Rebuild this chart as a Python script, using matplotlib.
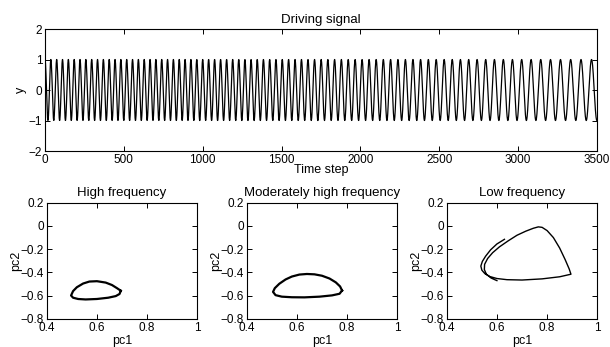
import matplotlib.pyplot as plt
import numpy as np

plt.rcParams['font.family'] = ['Liberation Sans', 'DejaVu Sans']
plt.rcParams['font.size'] = 8

# Driving signal: oscillation period (time steps) read at several time points
time_marks = [0, 285, 888, 1490, 2092, 2694, 3220, 3500]
period_marks = [37, 37, 37, 40, 45, 53, 63, 68]
n_steps = 3500

# Phase portraits (pc1, pc2)
high_pc1 = [0.695, 0.68, 0.66, 0.635, 0.60, 0.57, 0.545, 0.52, 0.505, 0.497,
            0.505, 0.525, 0.555, 0.60, 0.645, 0.675, 0.69, 0.695]
high_pc2 = [-0.557, -0.535, -0.508, -0.487, -0.475, -0.478, -0.495, -0.527,
            -0.56, -0.598, -0.617, -0.628, -0.632, -0.628, -0.617, -0.603,
            -0.585, -0.557]

mod_pc1 = [0.78, 0.772, 0.755, 0.73, 0.70, 0.67, 0.64, 0.61, 0.58, 0.555,
           0.53, 0.512, 0.505, 0.515, 0.54, 0.58, 0.63, 0.69, 0.74, 0.77, 0.78]
mod_pc2 = [-0.555, -0.52, -0.485, -0.452, -0.428, -0.416, -0.413, -0.418,
           -0.435, -0.46, -0.497, -0.535, -0.567, -0.595, -0.608, -0.613,
           -0.614, -0.608, -0.597, -0.583, -0.555]

low_pc1 = [0.63, 0.60, 0.575, 0.555, 0.542, 0.536, 0.54, 0.552, 0.572, 0.60,
           0.64, 0.70, 0.78, 0.85, 0.895, 0.888, 0.872, 0.85, 0.825, 0.80,
           0.78, 0.765, 0.745, 0.715, 0.68, 0.645, 0.61, 0.583, 0.563, 0.551,
           0.55, 0.558, 0.577, 0.60]
low_pc2 = [-0.115, -0.155, -0.205, -0.26, -0.305, -0.345, -0.38, -0.41,
           -0.435, -0.452, -0.462, -0.465, -0.455, -0.437, -0.415, -0.37,
           -0.29, -0.19, -0.10, -0.04, -0.012, -0.008, -0.02, -0.045, -0.08,
           -0.128, -0.18, -0.23, -0.28, -0.33, -0.375, -0.415, -0.448, -0.47]

t = np.arange(n_steps + 1)
period = np.interp(t, time_marks, period_marks)
y_sig = np.cos(2 * np.pi * np.concatenate([[0], np.cumsum(1.0 / period[:-1])]))

fig = plt.figure(figsize=(6.1, 3.47), dpi=100)


def style(ax):
    ax.tick_params(direction='in', top=True, right=True, length=3.5,
                   width=0.7, pad=2, labelsize=8.5)
    for s in ax.spines.values():
        s.set_linewidth(0.8)


ax = fig.add_axes([0.0738, 0.5648, 0.9049, 0.3516])
ax.plot(t, y_sig, color='black', lw=0.9)
ax.set_xlim(0, 3500)
ax.set_ylim(-2, 2)
ax.set_xticks(range(0, 3501, 500))
ax.set_yticks([-2, -1, 0, 1, 2])
ax.set_title('Driving signal', fontsize=9.5, pad=4)
ax.set_xlabel('Time step', fontsize=9, labelpad=-1)
ax.set_ylabel('y', fontsize=9, labelpad=1)
style(ax)

panels = [('High frequency', high_pc1, high_pc2, 1.6),
          ('Moderately high frequency', mod_pc1, mod_pc2, 1.6),
          ('Low frequency', low_pc1, low_pc2, 1.0)]
lefts = [0.0766, 0.4044, 0.7323]
for left, (title, px, py, lw) in zip(lefts, panels):
    a = fig.add_axes([left, 0.0807, 0.2469, 0.3352])
    a.plot(px, py, color='black', lw=lw)
    a.set_xlim(0.4, 1)
    a.set_ylim(-0.8, 0.2)
    a.set_xticks([0.4, 0.6, 0.8, 1])
    a.set_xticklabels(['0.4', '0.6', '0.8', '1'])
    a.set_yticks([-0.8, -0.6, -0.4, -0.2, 0, 0.2])
    a.set_yticklabels(['\u22120.8', '\u22120.6', '\u22120.4', '\u22120.2', '0', '0.2'])
    a.set_title(title, fontsize=9.5, pad=5)
    a.set_xlabel('pc1', fontsize=9, labelpad=1)
    a.set_ylabel('pc2', fontsize=9, labelpad=-1)
    style(a)

fig.savefig('out.png', dpi=100)
